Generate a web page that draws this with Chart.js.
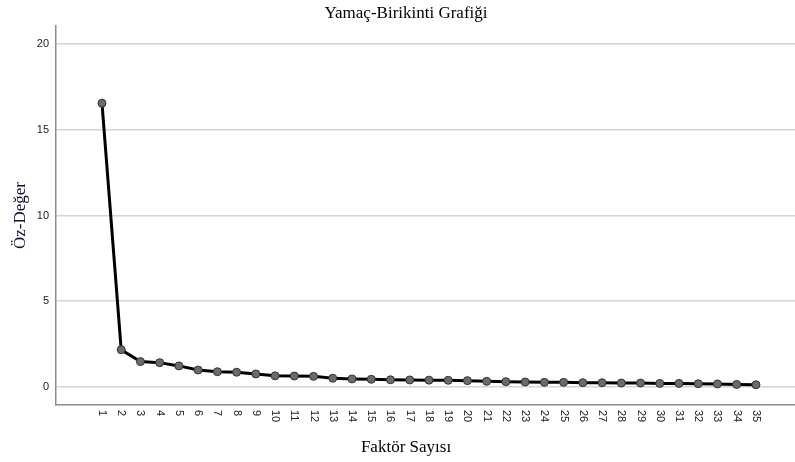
<!DOCTYPE html>
<html>
<head>
<meta charset="utf-8">
<script src="https://cdn.jsdelivr.net/npm/chart.js@4"></script>
<style>
  html, body { margin: 0; padding: 0; background: #fff; }
  #wrap { width: 795px; height: 462px; position: relative; }
</style>
</head>
<body>
<div id="wrap"><canvas id="c" width="795" height="462"></canvas></div>
<script>
const chartTitle = "Yamaç-Birikinti Grafiği";
const xTitle = "Faktör Sayısı";
const yTitle = "Öz-Değer";
const factors = [1,2,3,4,5,6,7,8,9,10,11,12,13,14,15,16,17,18,19,20,21,22,23,24,25,26,27,28,29,30,31,32,33,34,35];
const eigenvalues = [16.55,2.17,1.48,1.42,1.23,0.99,0.89,0.86,0.76,0.65,0.64,0.62,0.51,0.47,0.45,0.42,0.41,0.40,0.39,0.37,0.33,0.31,0.29,0.27,0.27,0.25,0.25,0.23,0.23,0.21,0.21,0.19,0.18,0.15,0.13];
const yTicks = [0,5,10,15,20];

const serif = "'Liberation Serif', 'Times New Roman', serif";
const sans = "'Liberation Sans', Arial, sans-serif";

const textPlugin = {
  id: 'texts',
  afterDraw(chart) {
    const ctx = chart.ctx;
    const xs = chart.scales.x;
    const area = chart.chartArea;
    ctx.save();
    // x tick labels rotated clockwise
    ctx.font = "11px " + sans;
    ctx.fillStyle = "#222";
    ctx.textAlign = "left";
    ctx.textBaseline = "middle";
    factors.forEach(f => {
      const px = xs.getPixelForValue(f);
      ctx.save();
      ctx.translate(px, area.bottom + 5);
      ctx.rotate(Math.PI / 2);
      ctx.fillText(String(f), 0, 0);
      ctx.restore();
    });
    // titles
    ctx.fillStyle = "#000";
    ctx.font = "17px " + serif;
    ctx.textAlign = "center";
    ctx.textBaseline = "middle";
    ctx.fillText(chartTitle, 406, 14);
    ctx.fillText(xTitle, 406, 448);
    ctx.save();
    ctx.translate(21, (area.top + area.bottom) / 2);
    ctx.rotate(-Math.PI / 2);
    ctx.fillStyle = "#10103a";
    ctx.fillText(yTitle, 0, 0);
    ctx.restore();
    ctx.restore();
  }
};

new Chart(document.getElementById('c'), {
  type: 'line',
  data: {
    datasets: [{
      data: factors.map((f, i) => ({ x: f, y: eigenvalues[i] })),
      borderColor: '#000',
      borderWidth: 3,
      pointRadius: 4,
      pointBackgroundColor: '#6b6b6b',
      pointBorderColor: '#333',
      pointBorderWidth: 1,
      tension: 0
    }]
  },
  options: {
    responsive: false,
    animation: false,
    devicePixelRatio: 1,
    layout: { autoPadding: false, padding: { top: 26, bottom: 0, left: 0, right: 0 } },
    plugins: { legend: { display: false }, title: { display: false }, tooltip: { enabled: false } },
    scales: {
      x: {
        type: 'linear',
        min: -1.39,
        max: 37.03,
        grid: { display: false, drawTicks: false },
        border: { color: '#8c8c8c', width: 1.5 },
        ticks: { display: false },
        afterFit(s) { s.height = 57; }
      },
      y: {
        type: 'linear',
        min: -1.05,
        max: 21.05,
        afterBuildTicks(s) { s.ticks = yTicks.map(v => ({ value: v })); },
        grid: { color: '#d4d4d4', lineWidth: 1.5, drawTicks: false },
        border: { color: '#8c8c8c', width: 1.5 },
        ticks: { font: { family: sans, size: 11 }, color: '#222', padding: 7 },
        afterFit(s) { s.width = 56; }
      }
    }
  },
  plugins: [textPlugin]
});
</script>
</body>
</html>
